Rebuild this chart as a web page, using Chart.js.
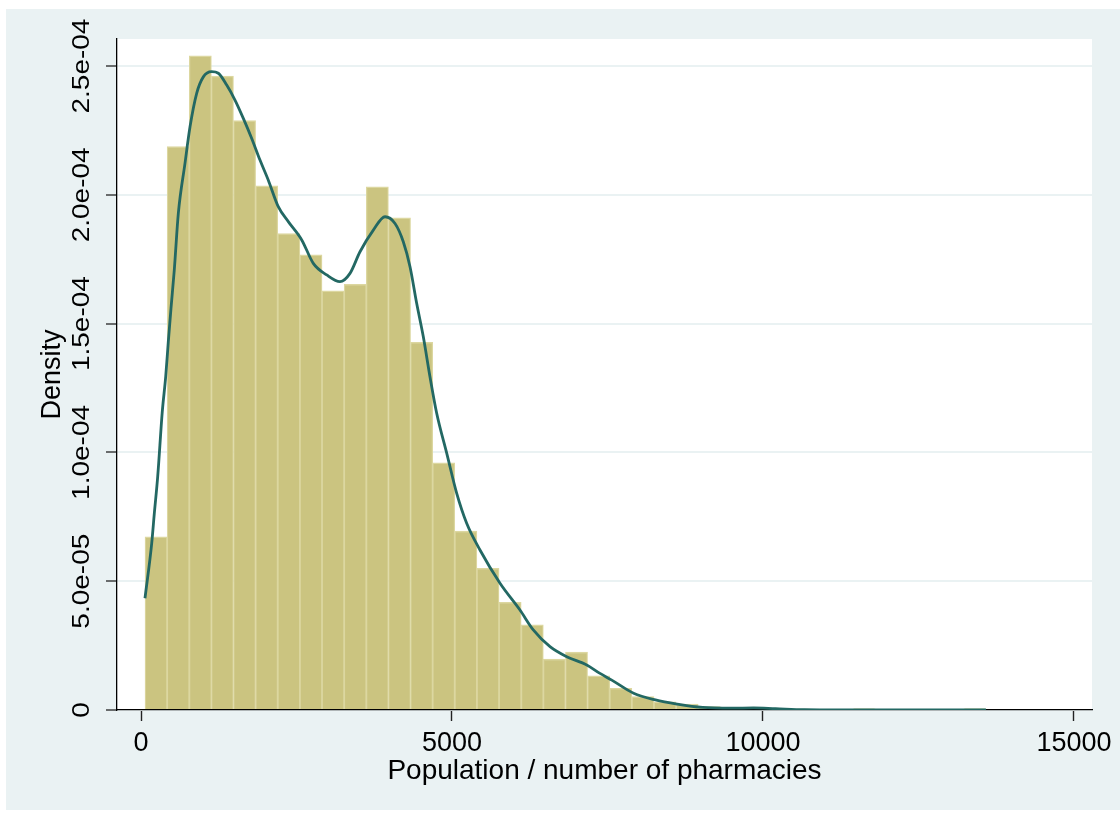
<!DOCTYPE html>
<html>
<head>
<meta charset="utf-8">
<script src="https://cdn.jsdelivr.net/npm/chart.js@4.4.1/dist/chart.umd.min.js"></script>
<style>
  html, body { margin: 0; padding: 0; background: #ffffff; }
  #wrap { width: 1120px; height: 814px; }
  canvas { display: block; }
</style>
</head>
<body>
<div id="wrap"><canvas id="c" width="1120" height="814"></canvas></div>
<script>
// ---- Data ----
// Histogram bin centres (population / number of pharmacies)
const binCenters = [242, 598, 954, 1309, 1665, 2021, 2377, 2733, 3088, 3444,
  3800, 4156, 4512, 4867, 5223, 5579, 5935, 6291, 6646, 7002,
  7358, 7714, 8070, 8425, 8781, 9137, 9493, 9849, 10204, 10560,
  10916, 11272, 11628, 11983, 12339, 12695, 13051, 13407];
// Histogram densities
const binDensity = [6.72e-5, 2.187e-4, 2.540e-4, 2.461e-4, 2.288e-4, 2.035e-4, 1.850e-4, 1.767e-4, 1.627e-4, 1.653e-4,
  2.031e-4, 1.911e-4, 1.427e-4, 9.60e-5, 6.95e-5, 5.50e-5, 4.18e-5, 3.31e-5, 1.98e-5, 2.25e-5,
  1.33e-5, 8.4e-6, 5.2e-6, 3.2e-6, 2.3e-6, 1.3e-6, 1.0e-6, 1.0e-6, 6e-7, 4e-7,
  0, 0, 5e-7, 0, 0, 0, 0, 5e-7];
// Kernel density curve
const kdeX = [64, 172, 214, 268, 342, 397, 439, 482, 535, 600, 707, 788, 895, 1002, 1137, 1243, 1378, 1511, 1645, 1780,
  1913, 2047, 2207, 2368, 2584, 2770, 2986, 3199, 3360, 3521, 3735, 3923, 4084, 4217, 4325, 4432, 4539, 4646, 4754, 4915,
  5076, 5236, 5450, 5772, 6093, 6307, 6576, 6844, 7166, 7379, 7569, 7920, 8272, 8622, 9030, 9498, 9849, 10201, 10667, 11500, 12500, 13585];
const kdeY = [4.34e-5, 6.47e-5, 7.63e-5, 9.05e-5, 1.158e-4, 1.294e-4, 1.430e-4, 1.559e-4, 1.708e-4, 1.928e-4, 2.122e-4, 2.264e-4, 2.394e-4, 2.458e-4, 2.478e-4, 2.472e-4, 2.426e-4, 2.368e-4, 2.297e-4, 2.219e-4,
  2.135e-4, 2.057e-4, 1.954e-4, 1.896e-4, 1.825e-4, 1.734e-4, 1.689e-4, 1.663e-4, 1.695e-4, 1.779e-4, 1.863e-4, 1.915e-4, 1.889e-4, 1.818e-4, 1.721e-4, 1.579e-4, 1.449e-4, 1.294e-4, 1.152e-4, 9.97e-5,
  8.41e-5, 7.25e-5, 6.21e-5, 4.92e-5, 3.88e-5, 3.11e-5, 2.46e-5, 2.07e-5, 1.75e-5, 1.42e-5, 1.16e-5, 6.5e-6, 3.9e-6, 2.3e-6, 1.0e-6, 7e-7, 8e-7, 5e-7, 1e-7, 0, 0, 0];
// Axis ticks
const xTickValues = [0, 5000, 10000, 15000];
const xTickLabels = ['0', '5000', '10000', '15000'];
const yTickValues = [0, 5e-5, 1e-4, 1.5e-4, 2e-4, 2.5e-4];
const yTickLabels = ['0', '5.0e-05', '1.0e-04', '1.5e-04', '2.0e-04', '2.5e-04'];
const xTitle = 'Population / number of pharmacies';
const yTitle = 'Density';

// ---- Styling ----
const FONT = '"Liberation Sans", Arial, Helvetica, sans-serif';
const BG = '#EAF2F3';
Chart.defaults.font.family = FONT;
Chart.defaults.color = '#000000';

const bgPlugin = {
  id: 'bg',
  beforeDraw(chart) {
    const ctx = chart.ctx, a = chart.chartArea;
    ctx.save();
    ctx.fillStyle = '#ffffff';
    ctx.fillRect(0, 0, chart.width, chart.height);
    ctx.fillStyle = BG;
    ctx.fillRect(6, 9, chart.width - 6, chart.height - 13);
    ctx.fillStyle = '#ffffff';
    ctx.fillRect(a.left, a.top, a.right - a.left, a.bottom - a.top);
    ctx.restore();
  }
};

const yLabelPlugin = {
  id: 'yLabels',
  afterDraw(chart) {
    const ctx = chart.ctx, ys = chart.scales.y;
    ctx.save();
    ctx.fillStyle = '#000000';
    ctx.font = '28px ' + FONT;
    ctx.textAlign = 'center';
    ctx.textBaseline = 'middle';
    yTickValues.forEach((v, i) => {
      const py = ys.getPixelForValue(v);
      ctx.save();
      ctx.translate(82, py);
      ctx.rotate(-Math.PI / 2);
      ctx.scale(1, 0.85);
      ctx.fillText(yTickLabels[i], 0, 0);
      ctx.restore();
    });
    ctx.restore();
  }
};

const barData = binCenters.map((x, i) => ({ x: x, y: binDensity[i] }));
const lineData = kdeX.map((x, i) => ({ x: x, y: kdeY[i] }));

new Chart(document.getElementById('c'), {
  type: 'bar',
  data: {
    datasets: [
      {
        type: 'line',
        data: lineData,
        borderColor: 'rgb(35,104,99)',
        borderWidth: 2.8,
        pointRadius: 0,
        cubicInterpolationMode: 'monotone',
        fill: false,
        order: 0
      },
      {
        type: 'bar',
        data: barData,
        backgroundColor: 'rgb(203,196,128)',
        borderColor: 'rgb(220,215,160)',
        borderWidth: { left: 1.2, right: 1.2, top: 1.5, bottom: 0 },
        borderSkipped: false,
        barPercentage: 1,
        categoryPercentage: 1,
        order: 1
      }
    ]
  },
  options: {
    responsive: false,
    animation: false,
    devicePixelRatio: 1,
    layout: { padding: { left: 0, top: 39, right: 28, bottom: 0 } },
    plugins: { legend: { display: false }, tooltip: { enabled: false } },
    scales: {
      x: {
        type: 'linear',
        offset: false,
        min: -386,
        max: 15290,
        afterBuildTicks: (s) => { s.ticks = xTickValues.map(v => ({ value: v })); },
        afterFit: (s) => { s.height = 104; },
        ticks: {
          padding: 6,
          font: { size: 27 },
          color: '#000',
          maxRotation: 0,
          callback: (v) => { const i = xTickValues.indexOf(v); return i >= 0 ? xTickLabels[i] : ''; }
        },
        grid: { offset: false, drawOnChartArea: false, drawTicks: true, tickLength: 11, tickColor: '#222', tickWidth: 1.4 },
        border: { display: true, color: '#000', width: 1.3 },
        title: { display: true, text: xTitle, font: { size: 28 }, color: '#000', padding: { top: 0, bottom: 26 } }
      },
      y: {
        type: 'linear',
        min: 0,
        max: 2.605e-4,
        afterBuildTicks: (s) => { s.ticks = yTickValues.map(v => ({ value: v })); },
        afterFit: (s) => { s.width = 117; },
        ticks: { display: false },
        grid: { color: BG, lineWidth: 2, drawTicks: true, tickLength: 11, tickColor: '#222', tickWidth: 1.3 },
        border: { display: true, color: '#000', width: 1.3 },
        title: { display: true, text: yTitle, font: { size: 27 }, color: '#000', padding: { top: 36, bottom: 0 } }
      }
    }
  },
  plugins: [bgPlugin, yLabelPlugin]
});
</script>
</body>
</html>
